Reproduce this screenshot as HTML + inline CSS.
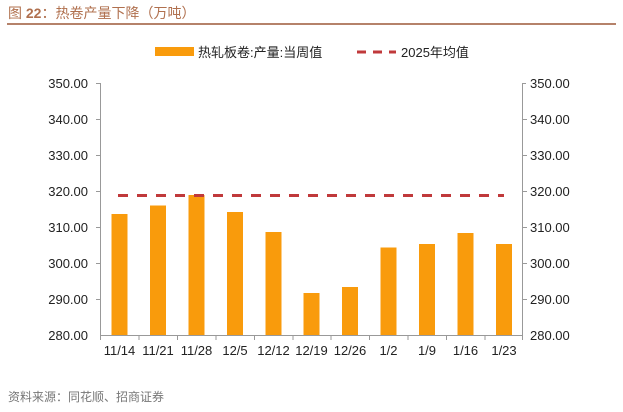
<!DOCTYPE html>
<html><head><meta charset="utf-8"><style>
body{margin:0;background:#fff;width:623px;height:407px;overflow:hidden;font-family:"Liberation Sans","Noto Sans CJK SC",sans-serif;}
</style></head><body>
<svg width="623" height="407" xmlns="http://www.w3.org/2000/svg" font-family="Liberation Sans, Noto Sans CJK SC, sans-serif">
<text x="8" y="18" font-size="14" fill="#b0704e">图 <tspan font-weight="bold">22</tspan>：热卷产量下降（万吨）</text>
<rect x="7" y="23" width="609" height="2" fill="#b5826a"/>
<rect x="155" y="47" width="39" height="9" fill="#f99b0c"/>
<text x="198" y="57" font-size="13" fill="#222">热轧板卷:产量:当周值</text>
<line x1="357" y1="52" x2="396" y2="52" stroke="#c0393b" stroke-width="3" stroke-dasharray="9,7"/>
<text x="401" y="57" font-size="13" fill="#222">2025年均值</text>
<g stroke="#999" stroke-width="1">
<line x1="100.5" y1="83" x2="100.5" y2="335"/><line x1="96" y1="83.5" x2="100" y2="83.5"/>
<line x1="522.5" y1="83" x2="522.5" y2="335"/><line x1="522" y1="83.5" x2="526" y2="83.5"/>
<line x1="100" y1="335.5" x2="523" y2="335.5"/>
<path d="M100.5 335v5M139 335v5M177.5 335v5M216 335v5M254.5 335v5M293 335v5M331 335v5M369.5 335v5M408 335v5M446.5 335v5M485 335v5M522.5 335v5"/>
</g>
<g font-size="13" fill="#222">
<text x="88" y="88" text-anchor="end">350.00</text><text x="88" y="124" text-anchor="end">340.00</text><text x="88" y="160" text-anchor="end">330.00</text><text x="88" y="196" text-anchor="end">320.00</text><text x="88" y="232" text-anchor="end">310.00</text><text x="88" y="268" text-anchor="end">300.00</text><text x="88" y="304" text-anchor="end">290.00</text><text x="88" y="340" text-anchor="end">280.00</text>
<text x="530" y="88">350.00</text><text x="530" y="124">340.00</text><text x="530" y="160">330.00</text><text x="530" y="196">320.00</text><text x="530" y="232">310.00</text><text x="530" y="268">300.00</text><text x="530" y="304">290.00</text><text x="530" y="340">280.00</text>
</g>
<g stroke="#999"><line x1="96" y1="119.5" x2="100" y2="119.5"/><line x1="96" y1="155.5" x2="100" y2="155.5"/><line x1="96" y1="191.5" x2="100" y2="191.5"/><line x1="96" y1="227.5" x2="100" y2="227.5"/><line x1="96" y1="263.5" x2="100" y2="263.5"/><line x1="96" y1="299.5" x2="100" y2="299.5"/>
<line x1="523" y1="119.5" x2="527" y2="119.5"/><line x1="523" y1="155.5" x2="527" y2="155.5"/><line x1="523" y1="191.5" x2="527" y2="191.5"/><line x1="523" y1="227.5" x2="527" y2="227.5"/><line x1="523" y1="263.5" x2="527" y2="263.5"/><line x1="523" y1="299.5" x2="527" y2="299.5"/></g>
<g fill="#f99b0c">
<rect x="111.5" y="214" width="16" height="121"/>
<rect x="150" y="205.5" width="16" height="129.5"/>
<rect x="188.5" y="195" width="16" height="140"/>
<rect x="227" y="212" width="16" height="123"/>
<rect x="265.5" y="232" width="16" height="103"/>
<rect x="303.5" y="293" width="16" height="42"/>
<rect x="342" y="287" width="16" height="48"/>
<rect x="380.5" y="247.5" width="16" height="87.5"/>
<rect x="419" y="244" width="16" height="91"/>
<rect x="457.5" y="233" width="16" height="102"/>
<rect x="496" y="244" width="16" height="91"/>
</g>
<line x1="118" y1="195.5" x2="504" y2="195.5" stroke="#c0393b" stroke-width="3" stroke-dasharray="10,9"/>
<g font-size="13" fill="#222" text-anchor="middle">
<text x="119.5" y="355">11/14</text><text x="158" y="355">11/21</text><text x="196.5" y="355">11/28</text><text x="235" y="355">12/5</text><text x="273.5" y="355">12/12</text><text x="311.5" y="355">12/19</text><text x="350" y="355">12/26</text><text x="388.5" y="355">1/2</text><text x="427" y="355">1/9</text><text x="465.5" y="355">1/16</text><text x="504" y="355">1/23</text>
</g>
<text x="8" y="401" font-size="12" fill="#777">资料来源：同花顺、招商证券</text>
</svg>
</body></html>
